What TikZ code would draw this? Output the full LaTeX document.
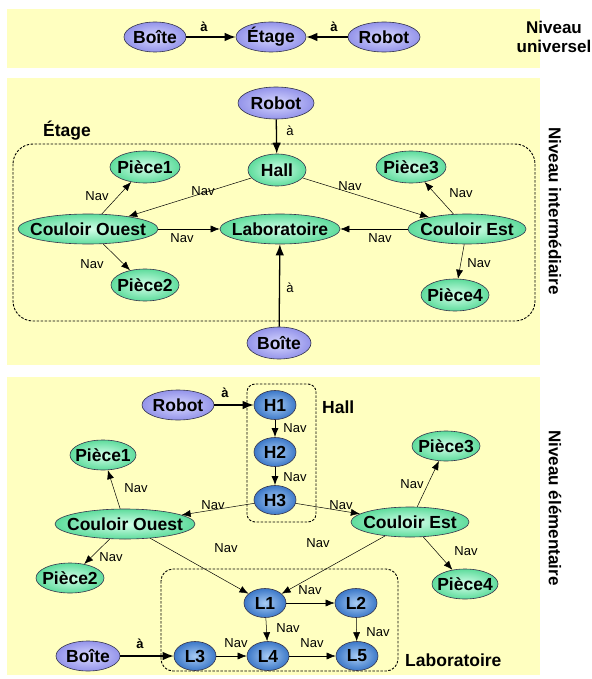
\documentclass[tikz,border=0pt]{standalone}
\usepackage{fontspec}
\setmainfont{Liberation Sans}
\usetikzlibrary{shapes.geometric,arrows.meta}
\definecolor{band}{HTML}{FFFFC0}
\definecolor{lavout}{HTML}{9494EA}
\definecolor{lavin}{HTML}{D8D8FF}
\definecolor{grnout}{HTML}{5EDC9C}
\definecolor{grnin}{HTML}{D4FFEA}
\definecolor{bluout}{HTML}{3C78C8}
\definecolor{bluin}{HTML}{A8CCF4}
\definecolor{rim}{HTML}{34344C}
\tikzset{
  nd/.style={ellipse, draw=rim, line width=0.6pt, inner xsep=-30pt, inner ysep=0pt,
     font=\bfseries\fontsize{17.5}{19}\selectfont},
  lav/.style={nd, inner color=lavin, outer color=lavout, minimum height=30pt},
  grn/.style={nd, inner color=grnin, outer color=grnout, minimum height=30pt},
  blu/.style={nd, inner color=bluin, outer color=bluout, minimum width=42pt, minimum height=29pt},
  nav/.style={-{Latex[length=9pt,width=7pt]}, line width=0.5pt},
  aa/.style={-{Latex[length=11pt,width=8.5pt]}, line width=1.3pt},
  lbl/.style={font=\fontsize{13}{15}\selectfont, inner sep=0pt},
  lblb/.style={font=\bfseries\fontsize{13}{15}\selectfont, inner sep=0pt},
  grp/.style={draw, dashed, line width=0.9pt, dash pattern=on 2.5pt off 1.5pt},
  grplbl/.style={font=\bfseries\fontsize{17.5}{19}\selectfont, inner sep=0pt},
  side/.style={font=\bfseries\fontsize{17}{19}\selectfont, inner sep=0pt, align=center},
}
\begin{document}
\begin{tikzpicture}[x=1pt,y=-1pt]
\useasboundingbox (0,0) rectangle (591,679);
% bands
\fill[band] (7,9) rectangle (540,68);
\fill[band] (7,78) rectangle (540,365);
\fill[band] (7,377) rectangle (540,675);

% ---------- top level ----------
\node[lav, minimum width=62pt] (tb) at (155,37) {Boîte};
\node[lav, minimum width=70pt] (te) at (271,37) {Étage};
\node[lav, minimum width=72pt] (tr) at (384,37) {Robot};
\draw[aa] (tb) -- (te) node[lblb] at (204,27) {à};
\draw[aa] (tr) -- (te) node[lblb] at (334,27) {à};
\node[side] (s1) at (554,37) {Niveau\\universel};

% ---------- intermediate level ----------
\draw[grp, rounded corners=20pt] (13,144) rectangle (535,321);
\node[grplbl] (etl) at (67,131) {Étage};
\node[lav, minimum width=76pt, minimum height=32pt] (mr) at (276,103) {Robot};
\node[grn, minimum width=58pt, minimum height=32pt] (mh) at (277,170) {Hall};
\node[grn, minimum width=70pt, minimum height=32pt] (mp1) at (145,167) {Pièce1};
\node[grn, minimum width=70pt, minimum height=32pt] (mp3) at (411,167) {Pièce3};
\node[grn, minimum width=140pt] (mco) at (88,229) {Couloir Ouest};
\node[grn, minimum width=120pt] (mlab) at (280,229) {Laboratoire};
\node[grn, minimum width=118pt] (mce) at (467,229) {Couloir Est};
\node[grn, minimum width=68pt, minimum height=32pt] (mp2) at (145,285) {Pièce2};
\node[grn, minimum width=68pt, minimum height=32pt] (mp4) at (455,295) {Pièce4};
\node[lav, minimum width=64pt, minimum height=32pt] (mb) at (279,343) {Boîte};
\draw[aa] (mr) -- (mh) node[lbl] at (290,131) {à};
\draw[aa] (mb) -- (mlab) node[lbl] at (290,288) {à};
\draw[nav] (mco) -- (mp1) node[lbl] at (97,196) {Nav};
\draw[nav] (mh) -- (mco) node[lbl] at (203,191) {Nav};
\draw[nav] (mh) -- (mce) node[lbl] at (350,186) {Nav};
\draw[nav] (mce) -- (mp3) node[lbl] at (461,193) {Nav};
\draw[nav] (mco) -- (mlab) node[lbl] at (182,238) {Nav};
\draw[nav] (mce) -- (mlab) node[lbl] at (380,238) {Nav};
\draw[nav] (mco) -- (mp2) node[lbl] at (92,264) {Nav};
\draw[nav] (mce) -- (mp4) node[lbl] at (479,263) {Nav};
\node[side, rotate=-90] (s2) at (555,211) {Niveau intermédiaire};

% ---------- elementary level ----------
\draw[grp, rounded corners=8pt] (247,384) rectangle (316,522);
\draw[grp, rounded corners=12pt] (161,569) rectangle (398,671);
\node[grplbl, anchor=west] (hl) at (322,407) {Hall};
\node[grplbl, anchor=west] (ll) at (405,660) {Laboratoire};
\node[lav, minimum width=72pt] (er) at (178,405) {Robot};
\node[blu] (h1) at (275,405) {H1};
\node[blu] (h2) at (275,452) {H2};
\node[blu] (h3) at (275,500) {H3};
\node[grn, minimum width=66pt] (ep1) at (103,455) {Pièce1};
\node[grn, minimum width=68pt] (ep3) at (446,446) {Pièce3};
\node[grn, minimum width=140pt] (eco) at (125,524) {Couloir Ouest};
\node[grn, minimum width=118pt] (ece) at (410,522) {Couloir Est};
\node[grn, minimum width=68pt] (ep2) at (70,578) {Pièce2};
\node[grn, minimum width=66pt] (ep4) at (465,584) {Pièce4};
\node[blu] (l1) at (265,603) {L1};
\node[blu] (l2) at (356,603) {L2};
\node[blu] (l3) at (195,656) {L3};
\node[blu] (l4) at (268,656) {L4};
\node[blu] (l5) at (357,656) {L5};
\node[lav, minimum width=64pt] (eb) at (88,656) {Boîte};
\draw[aa] (er) -- (h1) node[lblb] at (225,393) {à};
\draw[aa] (eb) -- (l3) node[lblb] at (140,644) {à};
\draw[nav, line width=0.9pt] (h1) -- (h2) node[lbl, anchor=west] at (283,428) {Nav};
\draw[nav, line width=0.9pt] (h2) -- (h3) node[lbl, anchor=west] at (283,477) {Nav};
\draw[nav] (eco) -- (ep1) node[lbl] at (136,488) {Nav};
\draw[nav] (h3) -- (eco) node[lbl] at (213,505) {Nav};
\draw[nav] (h3) -- (ece) node[lbl] at (341,505) {Nav};
\draw[nav] (ece) -- (ep3) node[lbl] at (412,484) {Nav};
\draw[nav] (eco) -- (ep2) node[lbl] at (111,557) {Nav};
\draw[nav] (ece) -- (ep4) node[lbl] at (466,551) {Nav};
\draw[nav] (eco) -- (l1) node[lbl] at (226,548) {Nav};
\draw[nav] (ece) -- (l1) node[lbl] at (318,543) {Nav};
\draw[nav] (l1) -- (l2) node[lbl] at (310,590) {Nav};
\draw[nav] (l1) -- (l4) node[lbl] at (288,628) {Nav};
\draw[nav] (l2) -- (l5) node[lbl] at (378,632) {Nav};
\draw[nav] (l3) -- (l4) node[lbl] at (236,643) {Nav};
\draw[nav] (l4) -- (l5) node[lbl] at (312,643) {Nav};
\node[side, rotate=-90] (s3) at (555,508) {Niveau élémentaire};
\end{tikzpicture}
\end{document}
